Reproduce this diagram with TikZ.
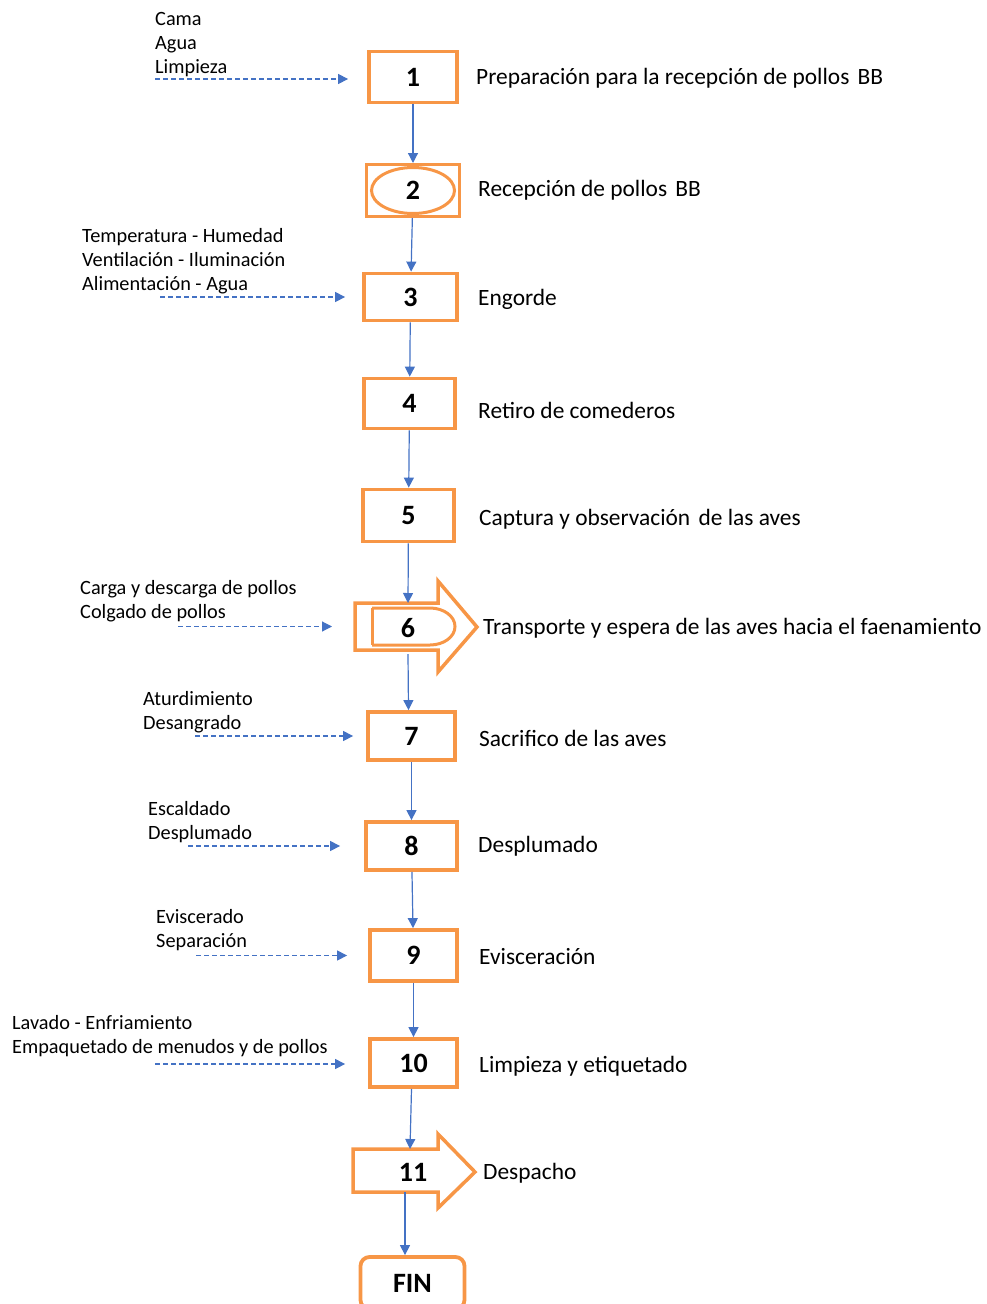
\documentclass[tikz,border=0pt]{standalone}
\usepackage{fontspec}
\setmainfont{Carlito}
\usetikzlibrary{arrows.meta}
\definecolor{ora}{RGB}{247,150,70}
\definecolor{blu}{RGB}{68,114,196}
\begin{document}
\begin{tikzpicture}[x=1pt,y=-1pt,
  box/.style={draw=ora, line width=3.8pt, inner sep=0pt, font=\fontsize{28}{32}\selectfont\bfseries},
  ghost/.style={inner sep=0pt, outer sep=0pt},
  num/.style={inner sep=0pt, font=\fontsize{28}{32}\selectfont\bfseries},
  lab/.style={anchor=west, inner sep=0pt, yshift=-2pt, font=\fontsize{23.4}{27}\selectfont},
  side/.style={anchor=west, align=left, inner sep=0pt, yshift=-2pt, font=\fontsize{20.3}{24}\selectfont},
  flow/.style={blu, line width=1.2pt, -{Triangle[width=10pt,length=10pt]}},
  dflow/.style={blu, line width=1.2pt, dash pattern=on 5pt off 3pt, -{Triangle[width=10pt,length=10pt]}},
  shp/.style={draw=ora, line width=3.5pt, line join=miter}]
\useasboundingbox (0,0) rectangle (987,1304);

% boxes
\node[box, minimum width=88pt, minimum height=51pt] (b1) at (413,77) {1};
\node[draw=ora, line width=3pt, inner sep=0pt, minimum width=93pt, minimum height=52pt] (b2) at (413,190.5) {};
\draw[ora, line width=3pt] (413,190.5) ellipse [x radius=41.5pt, y radius=23pt];
\node[num] (n2) at (413,190.5) {2};
\node[box, minimum width=93pt, minimum height=47pt] (b3) at (410.5,297) {3};
\node[box, minimum width=91pt, minimum height=50pt] (b4) at (409.5,403.5) {4};
\node[box, minimum width=91pt, minimum height=52pt] (b5) at (408.5,515.5) {5};

% shape 6
\node[ghost, minimum width=92pt, minimum height=47pt] (b6) at (401,626.5) {};
\draw[shp] (355,603) -- (438,603) -- (438,581) -- (477,627) -- (438,672) -- (438,650) -- (355,650) -- cycle;
\draw[ora, line width=3pt] (372,608) -- (372,645);
\draw[ora, line width=3pt] (372,608) -- (430,608) arc[start angle=90, end angle=-90, x radius=25pt, y radius=18.5pt] -- (372,645);
\node[num] (n6) at (408,628) {6};

\node[box, minimum width=87pt, minimum height=48pt] (b7) at (411.5,736) {7};
\node[box, minimum width=91pt, minimum height=48pt] (b8) at (411.5,846) {8};
\node[box, minimum width=87pt, minimum height=51pt] (b9) at (413.5,955.5) {9};
\node[box, minimum width=87pt, minimum height=48pt] (b10) at (413.5,1063) {10};

% shape 11
\node[ghost, minimum width=85pt, minimum height=43pt] (b11) at (395.5,1170.5) {};
\draw[shp] (353,1149) -- (438,1149) -- (438,1134) -- (475,1172) -- (438,1208) -- (438,1192) -- (353,1192) -- cycle;
\node[num] (n11) at (413,1172) {11};

\node[box, rounded corners=9pt, minimum width=104pt, minimum height=52pt] (fin) at (412.5,1283) {FIN};

% vertical flow
\draw[flow] (b1) -- (b2);
\draw[flow] (b2) -- (b3);
\draw[flow] (b3) -- (b4);
\draw[flow] (b4) -- (b5);
\draw[flow] (b5) -- ([xshift=7pt]b6.north);
\draw[flow] ([xshift=7pt,yshift=-4pt]b6.south) -- ([xshift=-3pt]b7.north);
\draw[flow] (b7) -- (b8);
\draw[flow] (b8) -- (b9);
\draw[flow] (b9) -- (b10);
\draw[flow] ([xshift=-2pt]b10.south) -- ([xshift=14.5pt]b11.north);
\draw[flow] ([xshift=9.5pt]b11.south) -- ([xshift=-7.5pt]fin.north);

% right labels
\node[lab] (l1) at (476,76) {Preparación para la recepción de pollos\hspace{3pt} BB};
\node[lab] (l2) at (478,188) {Recepción de pollos\hspace{3pt} BB};
\node[lab] (l3) at (478,297) {Engorde};
\node[lab] (l4) at (478,408) {Retiro de comederos};
\node[lab] (l5) at (479,517) {Captura y observación\hspace{3pt} de las aves};
\node[lab] (l6) at (483,626) {Transporte y espera de las aves hacia el faenamiento};
\node[lab] (l7) at (479,736) {Sacrifico de las aves};
\node[lab] (l8) at (478,844) {Desplumado};
\node[lab] (l9) at (479,955) {Evisceración};
\node[lab] (l10) at (479,1064) {Limpieza y etiquetado};
\node[lab] (l11) at (483,1171) {Despacho};

% side inputs
\node[side] (s1) at (155,43) {Cama\\Agua\\Limpieza};
\node[side] (s3) at (82,259) {Temperatura - Humedad\\Ventilación - Iluminación\\Alimentación - Agua};
\node[side] (s6) at (80,599) {Carga y descarga de pollos\\Colgado de pollos};
\node[side] (s7) at (143,710) {Aturdimiento\\Desangrado};
\node[side] (s8) at (148,820) {Escaldado\\Desplumado};
\node[side] (s9) at (156,928) {Eviscerado\\Separación};
\node[side] (s10) at (12,1034) {Lavado - Enfriamiento\\Empaquetado de menudos y de pollos};

% dashed input arrows
\coordinate (d1) at (155,79);
\coordinate (d3) at (160,297);
\coordinate (d6) at (178,626.5);
\coordinate (d7) at (195,736);
\coordinate (d8) at (188,846);
\coordinate (d9) at (196,955.5);
\coordinate (d10) at (155,1064);
\draw[dflow] (d1) -- ([xshift=-19pt,yshift=-2pt]b1.west);
\draw[dflow] (d3) -- ([xshift=-17pt]b3.west);
\draw[dflow] (d6) -- ([xshift=-23pt]b6.west);
\draw[dflow] (d7) -- ([xshift=-13pt]b7.west);
\draw[dflow] (d8) -- ([xshift=-24pt]b8.west);
\draw[dflow] (d9) -- ([xshift=-21pt]b9.west);
\draw[dflow] (d10) -- ([xshift=-23pt,yshift=-1pt]b10.west);
\end{tikzpicture}
\end{document}
